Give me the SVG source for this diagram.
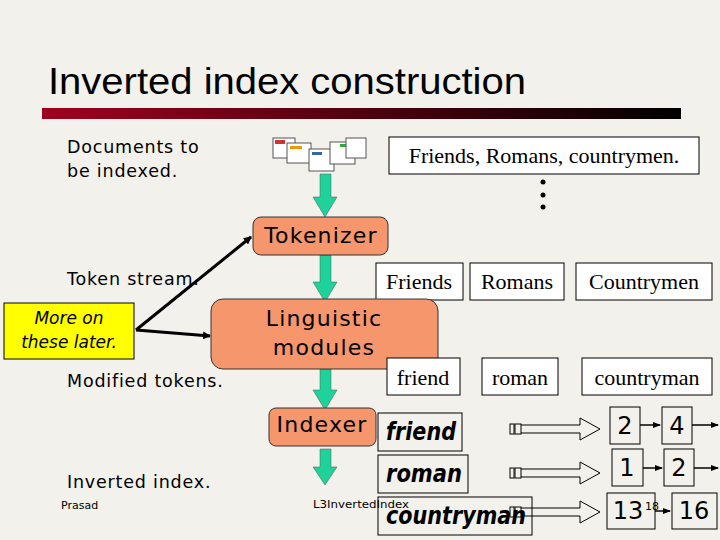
<svg xmlns="http://www.w3.org/2000/svg" width="720" height="540" viewBox="0 0 720 540">
<defs>
<linearGradient id="bar" x1="0" x2="1"><stop offset="0" stop-color="#a0001f"/><stop offset="1" stop-color="#000"/></linearGradient>
<marker id="ah" markerWidth="8" markerHeight="8" refX="7" refY="4" orient="auto" markerUnits="userSpaceOnUse"><path d="M0,0 L8,4 L0,8 z" fill="#000"/></marker>
<marker id="sh" markerWidth="8" markerHeight="8" refX="7" refY="4" orient="auto" markerUnits="userSpaceOnUse"><path d="M0,1 L8,4 L0,7 z" fill="#000"/></marker>
</defs>
<style>
.lab{font-family:"DejaVu Sans",sans-serif;font-size:17.5px;letter-spacing:0.8px;fill:#000}
.proc{fill:#f6966c;stroke:#333;stroke-width:1}
.pt{font-family:"DejaVu Sans",sans-serif;font-size:22px;letter-spacing:1.2px;fill:#000;text-anchor:middle}
.wb{fill:#fff;stroke:#000;stroke-width:1}
.ser{font-family:"Liberation Serif",serif;font-size:22px;text-anchor:middle}
.it{font-family:"DejaVu Sans",sans-serif;font-size:24px;font-style:italic;font-weight:bold}
.pb{fill:none;stroke:#000;stroke-width:1}
.num{font-family:"DejaVu Sans",sans-serif;font-size:24px;text-anchor:middle}
.garrow{fill:#1ed29a;stroke:#555;stroke-width:0.5}
.hol{fill:none;stroke:#000;stroke-width:1}
</style>
<rect width="720" height="540" fill="#f2f1ec"/>
<text x="48" y="94" font-family="Liberation Sans,sans-serif" font-size="36" textLength="478" lengthAdjust="spacingAndGlyphs">Inverted index construction</text>
<rect x="42" y="108" width="639" height="11" fill="url(#bar)"/>
<g id="labels">
<text class="lab" x="67" y="153">Documents to</text>
<text class="lab" x="67" y="177">be indexed.</text>
<text class="lab" x="67" y="285">Token stream.</text>
<text class="lab" x="67" y="387">Modified tokens.</text>
<text class="lab" x="67" y="488">Inverted index.</text>
<text x="61" y="509" font-family="DejaVu Sans,sans-serif" font-size="11">Prasad</text>
<text x="313" y="508" font-family="DejaVu Sans,sans-serif" font-size="11" textLength="96" lengthAdjust="spacingAndGlyphs">L3InvertedIndex</text>
</g>
<g id="docs">
<rect x="273" y="138" width="22" height="20" fill="#fff" stroke="#555"/><rect x="275" y="140" width="10" height="4" fill="#c33"/>
<rect x="287" y="143" width="24" height="20" fill="#fff" stroke="#555"/><rect x="290" y="146" width="12" height="3" fill="#e90"/>
<rect x="309" y="149" width="25" height="22" fill="#fff" stroke="#555"/><rect x="312" y="152" width="10" height="3" fill="#36a"/>
<rect x="330" y="142" width="25" height="22" fill="#fff" stroke="#555"/><rect x="340" y="144" width="8" height="3" fill="#3a3"/>
<rect x="346" y="138" width="20" height="20" fill="#fff" stroke="#555"/>
</g>
<g id="sentence"><rect class="wb" x="389" y="137" width="310" height="37"/><text class="ser" x="544" y="163">Friends, Romans, countrymen.</text>
<circle cx="543" cy="182" r="2.5"/><circle cx="543" cy="195" r="2.5"/><circle cx="543" cy="207" r="2.5"/></g>
<g id="connectors">
<path class="garrow" d="M320,174 H331 V197 H337 L325,217 L313,197 H320 Z"/>
<path class="garrow" d="M320,255 H331 V282 H337 L325,302 L313,282 H320 Z"/>
<path class="garrow" d="M320,369 H331 V390 H337 L325,410 L313,390 H320 Z"/>
<path class="garrow" d="M320,449 H331 V467 H337 L325,485 L313,467 H320 Z"/>
<line x1="136" y1="330" x2="251" y2="237" stroke="#000" stroke-width="3" marker-end="url(#ah)"/>
<line x1="136" y1="330" x2="210" y2="336" stroke="#000" stroke-width="3" marker-end="url(#ah)"/>
<g class="hol">
<rect x="510" y="424" width="4" height="10"/><rect x="515" y="424" width="6" height="10"/><path d="M521,425 H580 V418 L600,429 L580,440 V433 H521"/>
<rect x="510" y="468" width="4" height="10"/><rect x="515" y="468" width="6" height="10"/><path d="M521,469 H580 V462 L600,473 L580,484 V477 H521"/>
<rect x="510" y="507" width="4" height="10"/><rect x="515" y="507" width="6" height="10"/><path d="M521,508 H580 V501 L600,512 L580,523 V516 H521"/>
</g>
<g stroke="#000" stroke-width="1.5">
<line x1="640" y1="425" x2="660" y2="425" marker-end="url(#sh)"/><line x1="692" y1="425" x2="718" y2="425" marker-end="url(#sh)"/>
<line x1="643" y1="468" x2="662" y2="468" marker-end="url(#sh)"/><line x1="694" y1="468" x2="718" y2="468" marker-end="url(#sh)"/>
<line x1="655" y1="511" x2="670" y2="511" marker-end="url(#sh)"/>
</g>
</g>
<g id="tokenizer"><rect class="proc" x="253" y="217" width="135" height="38" rx="8"/><text class="pt" x="321" y="243">Tokenizer</text></g>
<g id="tokens">
<rect class="wb" x="376" y="263" width="87" height="37"/><text class="ser" x="419" y="289">Friends</text>
<rect class="wb" x="470" y="263" width="94" height="37"/><text class="ser" x="517" y="289">Romans</text>
<rect class="wb" x="576" y="263" width="136" height="37"/><text class="ser" x="644" y="289">Countrymen</text>
</g>
<g id="linguistic"><rect class="proc" x="211" y="299" width="227" height="70" rx="12"/><text class="pt" x="324" y="326">Linguistic</text><text class="pt" x="324" y="355">modules</text></g>
<g id="modified">
<rect class="wb" x="387" y="358" width="73" height="37"/><text class="ser" x="423" y="385">friend</text>
<rect class="wb" x="482" y="358" width="76" height="37"/><text class="ser" x="520" y="385">roman</text>
<rect class="wb" x="582" y="358" width="130" height="37"/><text class="ser" x="647" y="385">countryman</text>
</g>
<g id="indexer"><rect class="proc" x="269" y="408" width="107" height="38" rx="7"/><text class="pt" x="322" y="432">Indexer</text></g>
<g id="terms">
<rect class="pb" x="378" y="413" width="84" height="38"/><text class="it" x="386" y="440" textLength="70" lengthAdjust="spacingAndGlyphs">friend</text>
<rect class="pb" x="378" y="455" width="90" height="38"/><text class="it" x="386" y="482" textLength="76" lengthAdjust="spacingAndGlyphs">roman</text>
<rect class="pb" x="378" y="497" width="154" height="38"/><text class="it" x="386" y="524" textLength="140" lengthAdjust="spacingAndGlyphs">countryman</text>
</g>
<g id="postings">
<rect class="pb" x="610" y="407" width="30" height="37"/><text class="num" x="625" y="434">2</text>
<rect class="pb" x="662" y="407" width="30" height="37"/><text class="num" x="677" y="434">4</text>
<rect class="pb" x="612" y="449" width="31" height="37"/><text class="num" x="627" y="476">1</text>
<rect class="pb" x="664" y="449" width="30" height="37"/><text class="num" x="679" y="476">2</text>
<rect class="pb" x="607" y="493" width="48" height="36"/><text class="num" x="628" y="519">13</text>
<text x="645" y="510" font-family="DejaVu Sans,sans-serif" font-size="11">18</text>
<rect class="pb" x="672" y="493" width="45" height="36"/><text class="num" x="694" y="519">16</text>
</g>
<g id="note"><rect x="4" y="303" width="130" height="56" fill="#ffff00" stroke="#000"/>
<text x="69" y="324" font-family="DejaVu Sans,sans-serif" font-size="17" font-style="italic" text-anchor="middle">More on</text>
<text x="69" y="348" font-family="DejaVu Sans,sans-serif" font-size="17" font-style="italic" text-anchor="middle">these later.</text></g>
</svg>
